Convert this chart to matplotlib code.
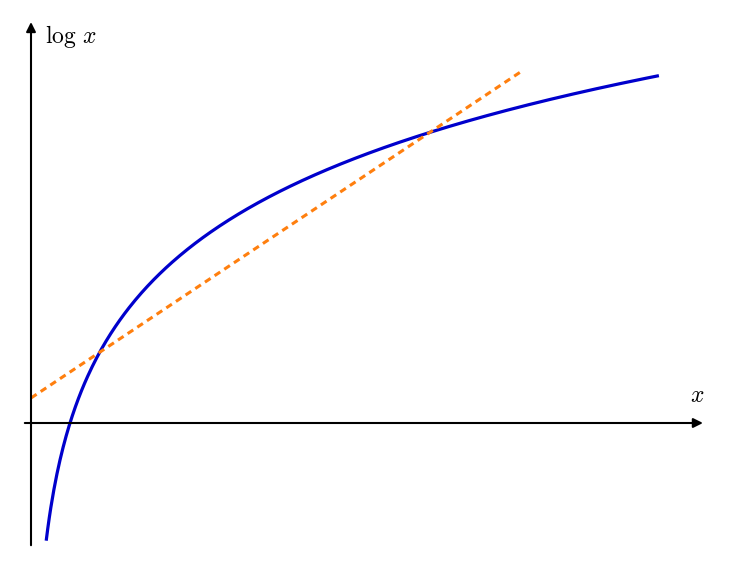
import numpy as np
import matplotlib
matplotlib.use("Agg")
import matplotlib.pyplot as plt

plt.rcParams['mathtext.fontset'] = 'cm'

# curve y = log x
x_start, x_end = 0.39, 16.1
# secant line y = b + m x
line_b, line_m = 0.2, 0.2078
line_x = [0.0, 12.6]

fig = plt.figure(figsize=(7.29, 5.72), dpi=100)
ax = fig.add_axes([0, 0, 1, 1])
ax.set_xlim(-31 / 39, (729 - 31) / 39)
ax.set_ylim(-149 / 125, 423 / 125)
ax.axis('off')

# axes with arrows
ax.annotate('', xy=(17.3, 0), xytext=(-0.23, 0),
            arrowprops=dict(arrowstyle='-|>', color='black', lw=1.5, mutation_scale=14))
ax.annotate('', xy=(0, 3.23), xytext=(0, -1.0),
            arrowprops=dict(arrowstyle='-|>', color='black', lw=1.5, mutation_scale=14))

xs = np.linspace(x_start, x_end, 400)
ax.plot(xs, np.log(xs), color='#0000cc', lw=2.3, solid_capstyle='butt')
lx = np.array(line_x)
ax.plot(lx, line_b + line_m * lx, color='#ff7f0e', lw=2.2, ls=(0, (2.2, 1.6)))

ax.text(0.36, 3.09, r'$\log\,x$', fontsize=17, va='center', ha='left')
ax.text(17.08, 0.22, r'$x$', fontsize=17, va='center', ha='center')

fig.savefig('out.png', dpi=100)
